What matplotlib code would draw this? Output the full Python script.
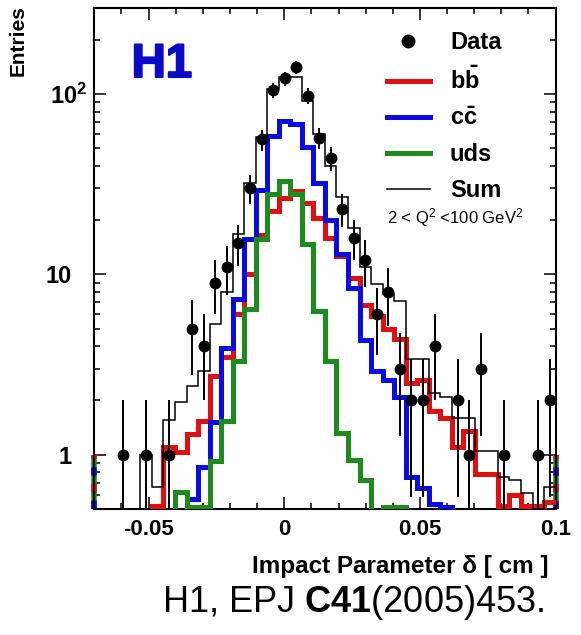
import numpy as np
import matplotlib
matplotlib.use("Agg")
import matplotlib.pyplot as plt
from matplotlib.lines import Line2D
from matplotlib.ticker import FixedLocator, MultipleLocator, LogLocator, NullFormatter
import matplotlib.patheffects as pe
import matplotlib.transforms as mtransforms

plt.rcParams['axes.unicode_minus'] = False
plt.rcParams['mathtext.fontset'] = 'custom'
plt.rcParams['mathtext.rm'] = 'Liberation Sans'
plt.rcParams['mathtext.bf'] = 'Liberation Sans:bold'
plt.rcParams['mathtext.it'] = 'Liberation Sans:italic'
plt.rcParams['font.family'] = ['Liberation Sans', 'DejaVu Sans']

# ---------------- data ----------------
x_lo, x_hi, n_bins = -0.07, 0.10, 40

data_counts = [0, 0, 1, 0, 1, 0, 1, 0, 5, 4, 9, 11, 15, 30, 56, 105, 122, 141, 98, 57,
               44, 23, 16, 12, 6, 8, 3, 2, 2, 4, 0, 2, 1, 3, 0, 1, 0, 0, 1, 2]

bb_vals = [0, 0, 0, 0, 0, 0.52, 1.1, 1.03, 1.3, 1.54, 2.74, 3.5, 6.0, 10.0, 16.5, 22.5, 26.5, 29.0, 25.0, 20.6,
           16.0, 12.7, 9.5, 6.8, 5.9, 5.0, 4.4, 2.5, 2.6, 1.75, 1.6, 1.1, 1.35, 0.78, 0.78, 0.52, 0.6, 0.52, 0.52, 0.55]

cc_vals = [0, 0, 0, 0, 0, 0, 0, 0.45, 0.57, 0.85, 1.51, 3.9, 7.3, 15.7, 29.5, 58.5, 71, 68, 51, 32,
           20, 13, 8.4, 4.3, 2.9, 2.6, 2.1, 0.75, 0.65, 0.53, 0.51, 0, 0, 0, 0, 0, 0, 0, 0, 0]

uds_vals = [0, 0, 0, 0, 0, 0, 0, 0.62, 0.51, 0.51, 0.92, 1.54, 3.3, 6.4, 15.7, 28, 33, 28, 14.7, 6.3,
            3.3, 1.32, 0.93, 0.72, 0.45, 0.51, 0.51, 0, 0, 0, 0, 0, 0, 0, 0, 0, 0, 0, 0, 0]

sum_vals = [0, 0, 0, 0, 1.0, 0.66, 1.55, 1.95, 2.4, 2.9, 5.3, 8.0, 16.7, 32, 58, 106, 124, 124, 91, 60,
            40, 27, 18, 11, 8.8, 7.8, 7.1, 3.4, 3.4, 2.2, 2.1, 1.6, 1.6, 1.05, 1.05, 0.75, 0.72, 0.61, 0.5, 0.66]

edge_stub_top = 1.0   # height of the coloured stubs drawn on the frame edges

x_ticks = [-0.05, 0.0, 0.05, 0.1]
x_ticklabels = ["-0.05", "0", "0.05", "0.1"]
y_ticks = [1, 10, 100]
y_ticklabels = ["1", "10", r"$\mathbf{10^{2}}$"]

legend_labels = ["Data", r"$\mathbf{b\bar{b}}$", r"$\mathbf{c\bar{c}}$", "uds", "Sum"]

RED, BLUE, GREEN = "#e01010", "#0a0ae6", "#1c8c1c"
SANS = ['Liberation Sans', 'DejaVu Sans']

# ---------------- figure ----------------
W, H = 581, 635
fig = plt.figure(figsize=(W / 100, H / 100), dpi=100)
L, R, T, B = 94.3, 555.6, 8, 509
ax = fig.add_axes([L / W, 1 - B / H, (R - L) / W, (B - T) / H])
ax.set_yscale('log')

edges = np.linspace(x_lo, x_hi, n_bins + 1)
centers = 0.5 * (edges[:-1] + edges[1:])


def floor(v):
    v = np.asarray(v, dtype=float)
    return np.where(v > 0, v, 1e-3)


ax.stairs(floor(bb_vals), edges, color=RED, lw=3.6, baseline=None, zorder=3)
ax.stairs(floor(cc_vals), edges, color=BLUE, lw=3.6, baseline=None, zorder=3)
ax.stairs(floor(uds_vals), edges, color=GREEN, lw=3.6, baseline=None, zorder=3)
ax.stairs(floor(sum_vals), edges, color='k', lw=1.1, baseline=None, zorder=4)

N = np.asarray(data_counts, dtype=float)
m = N > 0
err = np.sqrt(N[m])
lo = np.minimum(err, N[m] - 1e-3)
ax.errorbar(centers[m], N[m], yerr=[lo, err], fmt='o', color='k', ms=7.5,
            elinewidth=1.4, capsize=0, zorder=5)

ax.set_xlim(x_lo, x_hi)
ax.set_ylim(0.5, 300)

# coloured stubs on frame edges
for xe in (x_lo, x_hi):
    ax.vlines(xe, 0.5, edge_stub_top, color=GREEN, lw=4, zorder=2, clip_on=False)
    ax.vlines(xe, 0.5, edge_stub_top, color=BLUE, lw=4, zorder=2, clip_on=False,
              linestyles=(0, (1.5, 4.5)))
    ax.vlines(xe, 0.5, edge_stub_top, color=RED, lw=4, zorder=2, clip_on=False,
              linestyles=(3, (1.5, 4.5)))

ax.xaxis.set_major_locator(FixedLocator(x_ticks))
ax.set_xticklabels(x_ticklabels)
ax.xaxis.set_minor_locator(MultipleLocator(0.01))
ax.yaxis.set_major_locator(FixedLocator(y_ticks))
ax.set_yticklabels(y_ticklabels)
ax.yaxis.set_minor_locator(LogLocator(base=10, subs=np.arange(2, 10)))
ax.yaxis.set_minor_formatter(NullFormatter())

ax.tick_params(which='both', direction='in', top=True, right=True, width=1.1, colors='k')
ax.tick_params(which='major', length=8.6)
ax.tick_params(which='minor', length=4.3)
ax.tick_params(axis='x', pad=7)
ax.tick_params(axis='y', pad=16)
for lab in ax.get_xticklabels():
    lab.set_fontfamily(SANS)
    lab.set_fontweight('bold')
    lab.set_fontsize(16)
for lab in ax.get_yticklabels():
    lab.set_fontfamily(SANS)
    lab.set_fontweight('bold')
    lab.set_fontsize(17)
# ROOT-style exponent label sits further right
ytk = ax.yaxis.get_major_ticks()[2].label1
ytk.set_transform(ytk.get_transform() + mtransforms.ScaledTranslation(0.15, 0, fig.dpi_scale_trans))
for s in ax.spines.values():
    s.set_linewidth(1.5)

# legend
handles = [Line2D([], [], marker='o', color='k', ls='none', ms=9),
           Line2D([], [], color=RED, lw=3.6),
           Line2D([], [], color=BLUE, lw=3.6),
           Line2D([], [], color=GREEN, lw=3.6),
           Line2D([], [], color='k', lw=1.1)]
fig.legend(handles, legend_labels, loc='upper left', bbox_to_anchor=(386.7 / W, 1 - 31 / H),
           frameon=False, borderpad=0, borderaxespad=0, handlelength=1.83, handletextpad=0.85,
           labelspacing=0.55, prop=dict(family=SANS, weight='bold', size=17))

fig.text(387 / W, 1 - 218 / H, r"2 < Q$^{2}$ <100 GeV$^{2}$", fontsize=12,
         ha='left', va='center')

fig.text(131.7 / W, 1 - 77 / H, "H1", color='#0a0ac8', fontsize=34, fontweight='bold',
         family=SANS, ha='left', va='baseline',
         path_effects=[pe.withStroke(linewidth=1.5, foreground='#0a0ac8')])

fig.text(18 / W, 1 - 5 / H, "Entries", rotation=90, ha='center', va='top',
         fontsize=15, fontweight='bold', family=SANS)
fig.text(548 / W, 1 - 566 / H, "Impact Parameter δ [ cm ]", ha='right', va='center',
         fontsize=17.5, fontweight='bold', family=SANS)
fig.text(353 / W, 1 - 602 / H, r"H1, EPJ $\mathbf{C41}$(2005)453.", ha='center', va='center',
         fontsize=26, family=SANS)

fig.savefig("out.png", dpi=100)
